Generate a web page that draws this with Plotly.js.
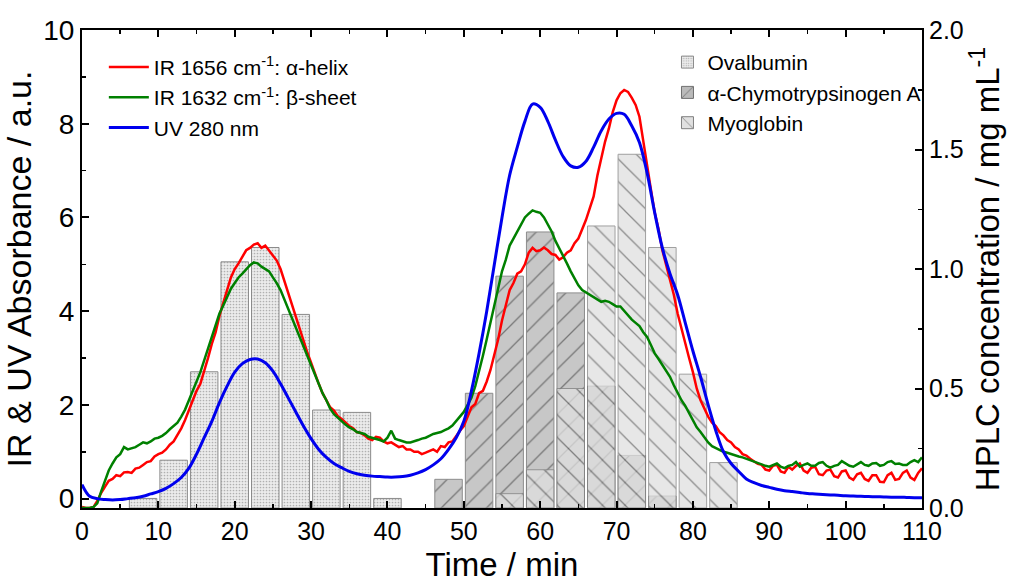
<!DOCTYPE html>
<html>
<head>
<meta charset="utf-8">
<script src="https://cdn.plot.ly/plotly-3.0.1.min.js"></script>
<style>html,body{margin:0;padding:0;background:#fff;}#chart{width:1017px;height:583px;}</style>
</head>
<body>
<div id="chart"></div>
<script>
// Time axis for the IR traces (min), 0.5 min steps
const irTime = [];
for (let i = 0; i <= 220; i++) irTime.push(i * 0.5);
// Time axis for the UV trace (min), 1 min steps
const uvTime = [];
for (let i = 0; i <= 110; i++) uvTime.push(i);

// IR 1656 cm-1 (alpha-helix) (0.5 min steps)
const irHelix = [
  -0.18,-0.2,-0.2,-0.18,-0.05,0.12,0.25,0.38,0.42,0.5,
  0.48,0.56,0.57,0.55,0.64,0.66,0.72,0.78,0.8,0.9,
  0.95,0.98,1.05,1.15,1.22,1.35,1.5,1.68,1.9,2.1,
  2.3,2.45,2.7,3.0,3.3,3.55,3.9,4.2,4.45,4.72,
  4.9,5.02,5.15,5.3,5.35,5.42,5.45,5.35,5.4,5.3,
  5.2,5.08,4.9,4.65,4.4,4.12,3.85,3.6,3.35,3.12,
  2.9,2.65,2.45,2.25,2.1,1.95,1.88,1.76,1.7,1.62,
  1.55,1.5,1.42,1.4,1.35,1.28,1.25,1.32,1.3,1.22,
  1.18,1.2,1.15,1.1,1.12,1.05,1.05,1.0,1.0,0.95,
  0.98,1.02,1.05,1.0,1.12,1.1,1.2,1.22,1.35,1.45,
  1.55,1.75,1.95,2.02,2.25,2.3,2.5,2.75,3.05,3.4,
  3.8,4.1,4.45,4.6,4.8,4.85,5.0,5.25,5.35,5.28,
  5.3,5.36,5.3,5.22,5.2,5.1,5.15,5.25,5.3,5.45,
  5.55,5.75,5.95,6.2,6.45,6.9,7.3,7.62,7.9,8.25,
  8.5,8.65,8.72,8.68,8.55,8.4,8.15,7.6,7.1,6.6,
  6.1,5.75,5.3,5.0,4.7,4.35,3.95,3.62,3.3,3.0,
  2.7,2.35,2.1,1.92,1.75,1.62,1.55,1.42,1.35,1.25,
  1.2,1.1,1.05,0.95,0.92,0.85,0.8,0.74,0.72,0.62,
  0.6,0.7,0.72,0.58,0.55,0.68,0.62,0.7,0.75,0.6,
  0.55,0.66,0.68,0.52,0.5,0.6,0.62,0.48,0.45,0.58,
  0.6,0.45,0.4,0.52,0.55,0.42,0.38,0.5,0.5,0.36,
  0.35,0.5,0.55,0.4,0.42,0.55,0.6,0.45,0.4,0.55,
  0.65];

// IR 1632 cm-1 (beta-sheet), 0.5 min steps
const irSheet = [
  -0.2,-0.2,-0.2,-0.18,-0.1,0.15,0.4,0.6,0.75,0.88,
  0.95,1.1,1.05,1.08,1.1,1.15,1.2,1.18,1.22,1.28,
  1.3,1.34,1.4,1.48,1.55,1.62,1.75,1.9,2.1,2.3,
  2.5,2.7,2.95,3.2,3.45,3.7,3.95,4.12,4.3,4.48,
  4.6,4.72,4.8,4.9,4.98,5.04,5.02,4.95,4.9,4.85,
  4.72,4.6,4.45,4.25,4.05,3.85,3.65,3.45,3.25,3.05,
  2.85,2.65,2.45,2.25,2.1,1.92,1.8,1.72,1.65,1.58,
  1.52,1.48,1.42,1.4,1.38,1.32,1.3,1.28,1.25,1.22,
  1.3,1.45,1.28,1.25,1.22,1.2,1.2,1.22,1.25,1.28,
  1.3,1.34,1.38,1.4,1.42,1.46,1.5,1.56,1.65,1.74,
  1.85,2.0,2.15,2.4,2.7,3.05,3.4,3.75,4.1,4.5,
  4.85,5.1,5.4,5.55,5.7,5.85,6.0,6.08,6.15,6.12,
  6.1,6.0,5.85,5.7,5.5,5.35,5.2,5.02,4.85,4.7,
  4.55,4.45,4.4,4.35,4.3,4.25,4.2,4.22,4.2,4.15,
  4.1,4.1,4.0,3.92,3.82,3.75,3.68,3.55,3.45,3.28,
  3.1,2.98,2.85,2.72,2.6,2.42,2.25,2.1,1.98,1.82,
  1.65,1.52,1.42,1.3,1.2,1.12,1.08,1.04,1.0,0.98,
  0.95,0.92,0.9,0.88,0.85,0.82,0.78,0.75,0.72,0.7,
  0.68,0.72,0.75,0.68,0.65,0.7,0.72,0.78,0.68,0.72,
  0.75,0.7,0.7,0.76,0.78,0.7,0.66,0.7,0.72,0.8,
  0.75,0.7,0.68,0.74,0.78,0.72,0.7,0.75,0.76,0.7,
  0.72,0.78,0.8,0.74,0.75,0.72,0.72,0.78,0.82,0.78,
  0.88];

// UV 280 nm, 1 min steps
const uv280 = [0.3,0.05,0.0,-0.02,-0.03,-0.02,0.0,0.02,0.05,0.1,
  0.15,0.22,0.32,0.45,0.65,0.95,1.3,1.65,2.05,2.4,
  2.7,2.88,2.97,2.98,2.9,2.72,2.45,2.15,1.85,1.55,
  1.28,1.05,0.88,0.75,0.66,0.58,0.53,0.5,0.48,0.47,
  0.46,0.46,0.47,0.5,0.55,0.62,0.72,0.85,1.05,1.3,
  1.65,2.3,3.1,4.0,5.0,6.0,6.9,7.5,8.05,8.42,
  8.35,8.05,7.65,7.3,7.1,7.07,7.2,7.5,7.85,8.1,
  8.22,8.2,7.95,7.6,6.95,6.1,5.35,4.8,4.35,3.75,
  3.15,2.6,2.0,1.45,1.0,0.75,0.58,0.42,0.34,0.28,
  0.24,0.2,0.17,0.15,0.13,0.11,0.1,0.09,0.08,0.07,
  0.06,0.055,0.05,0.045,0.04,0.035,0.03,0.03,0.025,0.02,0.02];

// HPLC fractions (mg/mL)
const ovalbuminTime = [8,12,16,20,24,28,32,36,40];
const ovalbuminConc = [0.04,0.20,0.57,1.03,1.09,0.81,0.41,0.40,0.04];
const chymoTime = [48,52,56,60,64,68,72,76];
const chymoConc = [0.12,0.48,0.97,1.155,0.90,0.51,0.22,0.05];
const myoTime = [56,60,64,68,72,76,80,84];
const myoConc = [0.06,0.16,0.50,1.18,1.48,1.09,0.56,0.19];

const FONT = 'Liberation Sans, Arial, sans-serif';

const traces = [
  {type:'bar', x:ovalbuminTime, y:ovalbuminConc, name:'Ovalbumin', yaxis:'y', xaxis:'x', legend:'legend2', width:3.6,
   marker:{color:'#ececec', line:{color:'#8a8a8a', width:1}, pattern:{shape:'.', size:3, solidity:0.25, fgcolor:'#b0b0b0', bgcolor:'#ececec'}}},
  {type:'bar', x:chymoTime, y:chymoConc, name:'\u03b1-Chymotrypsinogen A', yaxis:'y', xaxis:'x', legend:'legend2', width:3.6,
   marker:{color:'#bababa', opacity:0.8, line:{color:'#707070', width:1}, pattern:{shape:'/', size:16, solidity:0.08, fgcolor:'#555555', bgcolor:'#bababa'}}},
  {type:'bar', x:myoTime, y:myoConc, name:'Myoglobin', yaxis:'y', xaxis:'x', legend:'legend2', width:3.6,
   marker:{color:'#e0e0e0', opacity:0.75, line:{color:'#808080', width:1}, pattern:{shape:'\\', size:16, solidity:0.08, fgcolor:'#666666', bgcolor:'#e0e0e0'}}},
  {type:'scatter', mode:'lines', x:irTime, y:irHelix, name:'IR 1656 cm<sup>-1</sup>: \u03b1-helix', yaxis:'y2', legend:'legend',
   line:{color:'#ff0000', width:2.5}},
  {type:'scatter', mode:'lines', x:irTime, y:irSheet, name:'IR 1632 cm<sup>-1</sup>: \u03b2-sheet', yaxis:'y2', legend:'legend',
   line:{color:'#008000', width:2.5}},
  {type:'scatter', mode:'lines', x:uvTime, y:uv280, name:'UV 280 nm', yaxis:'y2', legend:'legend',
   line:{color:'#0000ee', width:3, shape:'spline'}}
];

const layout = {
  width:1017, height:583,
  margin:{l:82, r:95, t:30, b:75},
  paper_bgcolor:'#ffffff', plot_bgcolor:'#ffffff',
  font:{family:FONT, color:'#000'},
  barmode:'overlay',
  showlegend:true,
  xaxis:{range:[0,110], dtick:10, tick0:0, ticks:'inside', ticklen:7, tickwidth:2, tickcolor:'#000',
    showline:true, linewidth:2, linecolor:'#000', mirror:'ticks', showgrid:false, zeroline:false,
    minor:{ticks:'inside', dtick:5, ticklen:4, tickwidth:1.5, tickcolor:'#000'},
    tickfont:{size:25, family:FONT}, title:{text:'Time / min', font:{size:33, family:FONT}, standoff:18}},
  yaxis:{range:[0,2], side:'right', dtick:0.5, tick0:0, tickformat:'.1f', ticks:'inside', ticklen:7, tickwidth:2, tickcolor:'#000',
    showline:true, linewidth:2, linecolor:'#000', showgrid:false, zeroline:false,
    minor:{ticks:'inside', dtick:0.25, ticklen:4, tickwidth:1.5, tickcolor:'#000'},
    tickfont:{size:25, family:FONT}, title:{text:'HPLC concentration / mg mL<sup>-1</sup>', font:{size:33, family:FONT}, standoff:13}},
  yaxis2:{range:[-0.2,10], overlaying:'y', side:'left', anchor:'x', dtick:2, tick0:0, ticks:'inside', ticklen:7, tickwidth:2, tickcolor:'#000',
    showline:true, linewidth:2, linecolor:'#000', showgrid:false, zeroline:false,
    minor:{ticks:'inside', dtick:1, ticklen:4, tickwidth:1.5, tickcolor:'#000'},
    tickfont:{size:28, family:FONT}, title:{text:'IR & UV Absorbance / a.u.', font:{size:34, family:FONT}, standoff:8}},
  legend:{x:0.026, y:0.965, xanchor:'left', yanchor:'top', bgcolor:'rgba(0,0,0,0)', borderwidth:0,
    font:{size:21, family:FONT}, tracegroupgap:0, itemwidth:40},
  legend2:{x:0.697, y:0.975, xanchor:'left', yanchor:'top', bgcolor:'rgba(0,0,0,0)', borderwidth:0,
    font:{size:21, family:FONT}, tracegroupgap:0, traceorder:'normal'}
};

Plotly.newPlot('chart', traces, layout, {displayModeBar:false, staticPlot:true});
</script>
</body>
</html>
